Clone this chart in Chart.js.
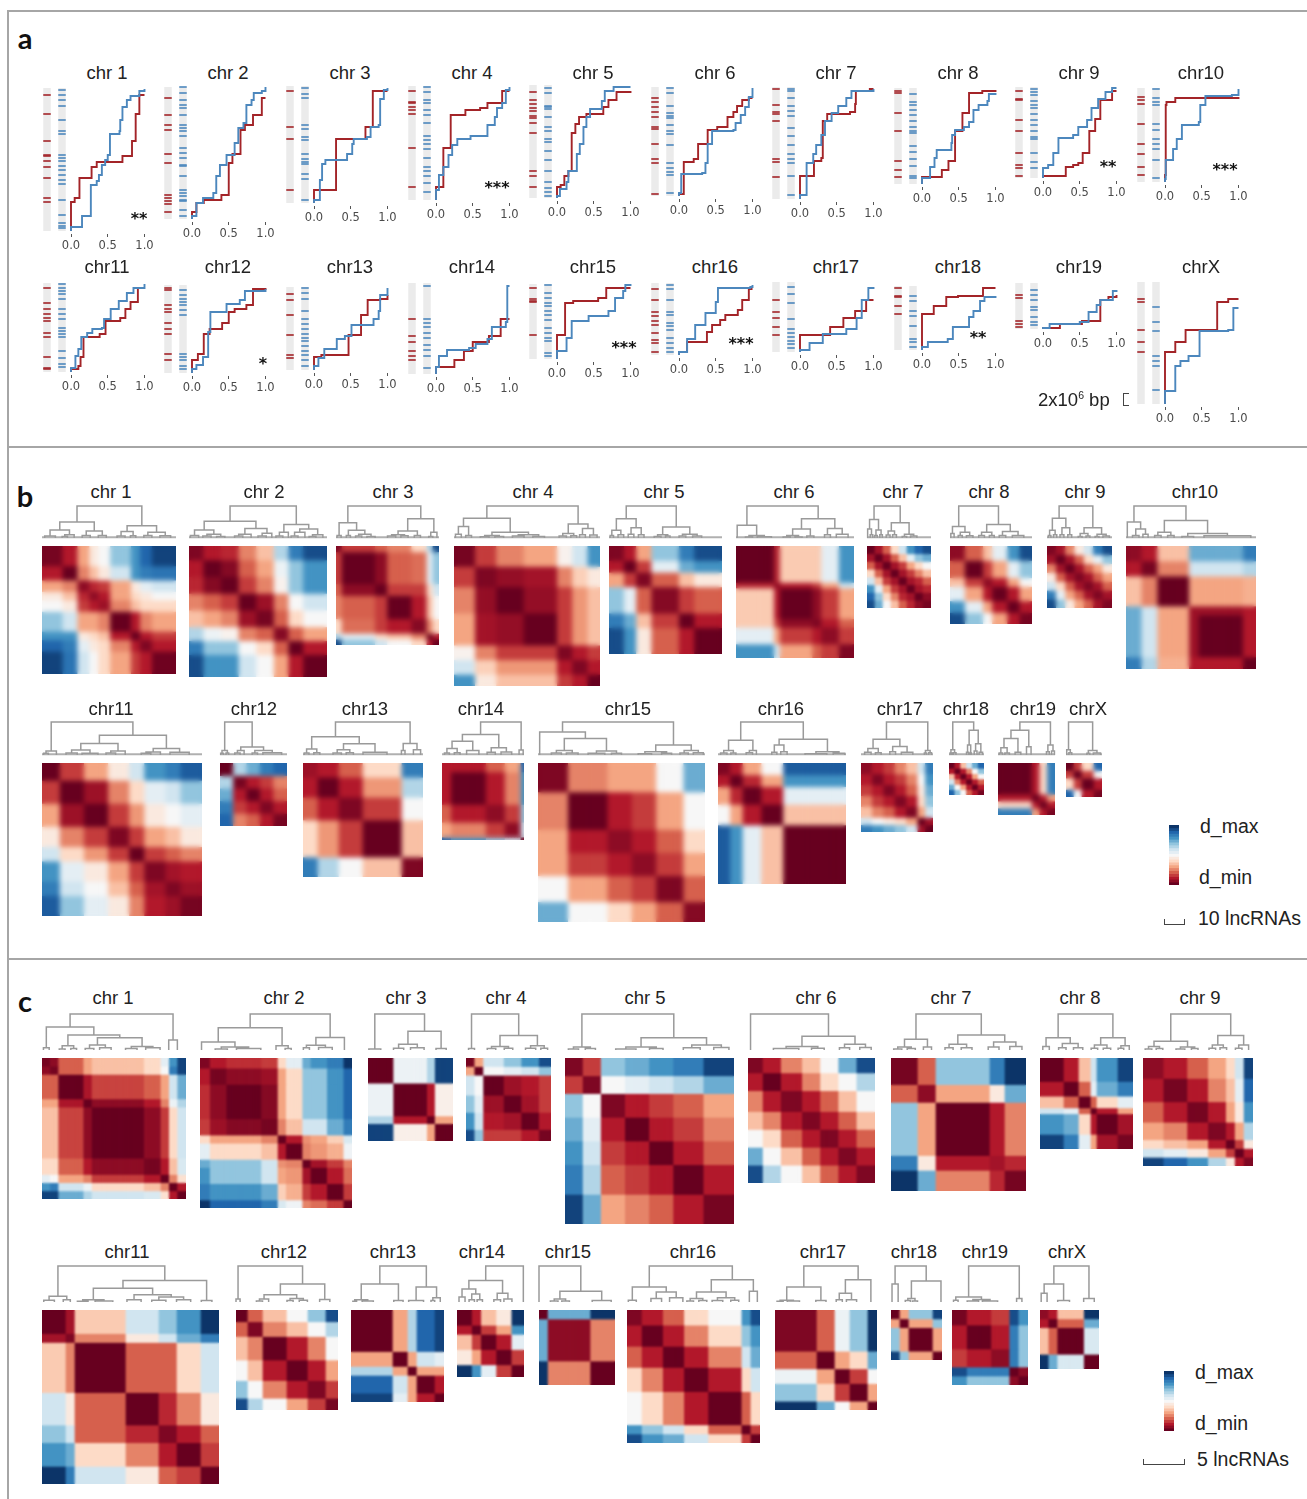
<!DOCTYPE html>
<html>
<head>
<meta charset="utf-8">
<script src="https://cdn.jsdelivr.net/npm/chart.js@4/dist/chart.umd.min.js"></script>
<style>
  html, body { margin: 0; padding: 0; background: #fff; }
  #page { position: relative; width: 1307px; height: 1499px; overflow: hidden; font-family: "Liberation Sans", sans-serif; color: #222; }
  #page canvas { position: absolute; }
  .txt { position: absolute; white-space: nowrap; line-height: 1; }
  .txt sup { font-size: 10.5px; line-height: 0; }
  .rule { position: absolute; background: #a6a6a6; }
  .mark { position: absolute; border: 0 solid #444; box-sizing: border-box; }
  .wrap { position: absolute; overflow: hidden; }
</style>
</head>
<body>
<div id="page"></div>
<script>
// ---------- panel a: chromosome positions of the lncRNA groups ----------
// x = cumulative fraction, y = position from the chromosome start (1 unit = 1/6 Mb)
const aTitles = ['chr 1','chr 2','chr 3','chr 4','chr 5','chr 6','chr 7','chr 8','chr 9','chr10','chr11','chr12','chr13','chr14','chr15','chr16','chr17','chr18','chr19','chrX'];
const aTickValues = [0, 0.5, 1];
const aStars = ['**','','','***','','','','','**','***','','*','','','***','***','','**','',''];
const aLengths = [143,132,117,114,113,109,112,96,91,94,89,88,83,91,75,72,70,64,46,122];

const redX = [
  [0,.05,.115,.28,.35,.7,.83,.88,.93,1],
  [0,.06,.16,.4,.5,.55,.66,.72,.83,.95,1],
  [0,.3,.7,.8,1],
  [0,.1,.2,.4,.6,.7,.9,1],
  [0,.05,.1,.155,.2,.25,.3,.4,.63,.7,.81,1],
  [0,.065,.2,.26,.39,.52,.66,.74,.79,.86,.95,1],
  [0,.19,.29,.31,.37,.68,.75,.76,.95,1],
  [0,.27,.36,.45,.55,.64,.82,1],
  [0,.31,.41,.48,.54,.63,.71,.78,.94,1],
  [0,.01,.01,.01,.01,.01,.02,.14,1],
  [0,.1,.13,.17,.39,.47,.67,.74,.81,.91,1],
  [0,.08,.16,.24,.41,.5,.58,.74,.83,1],
  [0,.1,.47,.64,.73,.9,1],
  [0,.25,.38,.5,.72,.88,1],
  [0,.02,.11,.22,.56,.67,1],
  [0,.11,.38,.45,.56,.63,.8,.86,.95,1],
  [0,.41,.59,.75,.9,1],
  [0,.16,.33,.49,.83,1],
  [0,.23,.53,.78,.89,1],
  [0,.14,.28,.71,.86,1]
];
const redY = [
  [29,33,53,64,69,75,90,117,136,136],
  [7,16,19,24,56,65,89,94,104,121,121],
  [13,64,76,112,112],
  [13,52,85,90,92,97,109,109],
  [11,13,22,27,65,74,81,84,91,98,106,107],
  [2,34,37,52,66,69,79,84,90,96,98,98],
  [23,38,41,78,85,87,95,108,110,110],
  [7,14,23,53,71,91,93,94],
  [2,11,13,15,25,47,59,78,87,87],
  [7,15,29,38,58,77,80,84,85],
  [3,6,15,35,38,51,54,63,70,84,84],
  [13,19,39,44,50,61,64,68,84,85],
  [13,15,35,55,70,71,75],
  [7,14,23,32,38,55,55],
  [24,24,56,58,61,71,71],
  [3,13,23,30,35,40,45,55,66,66],
  [17,25,34,41,52,52],
  [36,44,53,54,62,62],
  [1,5,8,29,32,34],
  [52,62,74,102,105,105]
];
const blueX = [
  [0,.15,.27,.35,.38,.42,.465,.5,.53,.66,.67,.7,.76,.81,.93,1],
  [0,.06,.15,.29,.33,.38,.47,.58,.63,.7,.74,.81,.84,.95,1],
  [0,.08,.11,.155,.31,.45,.52,.54,.72,.77,.88,.9,.95,1],
  [0,.04,.1,.17,.22,.29,.47,.7,.8,.83,.9,.95,1],
  [0,.04,.13,.155,.27,.31,.36,.4,.45,.61,.65,.77,1],
  [0,.03,.315,.36,.39,.45,.74,.77,.84,.9,.95,1],
  [0,.09,.18,.22,.29,.34,.43,.52,.63,.7,1],
  [0,.11,.17,.2,.4,.41,.45,.57,.64,.7,.77,.89,.91,1],
  [0,.07,.14,.21,.41,.48,.6,.66,.75,.85,.94,1],
  [0,.01,.11,.16,.23,.46,.48,.55,.91,1],
  [0,.06,.1,.14,.22,.29,.42,.45,.54,.65,.76,.85,1],
  [0,.06,.15,.22,.25,.47,.65,.72,1],
  [0,.06,.14,.31,.42,.51,.81,.88,.9,1],
  [0,.04,.15,.45,.54,.7,.76,.95,.97,1],
  [0,.13,.2,.43,.7,.79,.9,.93,1],
  [0,.11,.22,.36,.5,.53,.97,1],
  [0,.13,.31,.63,.77,.84,.93,1],
  [0,.08,.35,.42,.64,.7,.79,.85,1],
  [0,.09,.5,.62,.73,.78,.95,1],
  [0,.14,.21,.32,.47,.86,.93,1]
];
const blueY = [
  [4,15,46,50,56,66,71,76,97,100,111,124,131,135,140,142],
  [3,16,21,26,43,54,64,76,91,96,114,119,126,128,132],
  [3,23,39,43,43,49,59,64,66,76,78,104,113,115],
  [10,25,33,45,55,61,64,75,83,92,97,110,113],
  [2,9,16,27,44,54,71,81,89,97,107,111,111],
  [3,22,23,33,52,65,66,73,81,89,99,108],
  [4,36,45,54,64,78,86,93,101,108,110],
  [6,17,26,34,41,49,54,57,62,74,79,83,90,91],
  [10,13,25,40,43,51,58,70,79,86,90,90],
  [3,22,33,43,57,60,77,86,87,93],
  [4,16,23,35,39,43,44,53,63,71,79,84,88],
  [4,8,16,41,61,69,73,82,84],
  [4,12,21,31,34,45,51,59,75,82],
  [7,18,24,26,30,35,47,52,88,88],
  [8,21,38,43,48,61,68,74,75],
  [3,16,30,42,53,67,68,70],
  [2,9,18,23,34,52,64,65],
  [3,8,11,23,33,39,49,53,54],
  [1,5,7,17,24,29,38,39],
  [13,38,43,48,73,74,96,96]
];
// tick marks on the two grey chromosome bars
const redRug = [
  [136,117,90,76,75,70,64,53,33,29],
  [121,104,94,89,65,56,24,21,18,15,7],
  [112,76,64,13],
  [109,98,97,93,90,86,52,13],
  [106,98,94,90,87,82,80,75,65,27,22,11],
  [98,94,89,84,79,69,67,52,37,33,2],
  [110,94,87,85,78,40,37,22],
  [93,91,71,53,23,14,7],
  [87,79,78,58,47,25,13,10,2],
  [85,82,78,58,38,28,15,7],
  [84,69,63,58,54,51,39,35,15,4,3],
  [85,83,68,64,61,50,44,39,19,13],
  [76,70,55,35,15,12],
  [55,38,32,23,18,14],
  [71,60,58,57,24],
  [66,55,43,39,34,30,22,15,12,3],
  [52,40,34,25,17],
  [62,54,53,44,36],
  [34,31,8,5,2],
  [105,102,74,62,52]
];
const blueRug = [
  [141,136,131,125,111,100,97,76,73,70,65,61,56,51,47,31,16,8,5,3],
  [132,126,119,114,111,104,94,91,88,83,71,66,61,54,53,43,29,26,23,19,18,9,3],
  [115,109,105,78,74,66,63,49,44,41,39,29,24,3],
  [113,108,100,97,90,85,77,64,60,56,51,42,33,29,24,17,8],
  [110,105,92,91,89,81,71,67,59,56,47,38,27,16,10,6,2],
  [108,103,90,83,80,78,71,65,62,51,33,28,24,21,3],
  [110,108,101,93,88,83,71,63,54,45,40,36,23,4],
  [90,82,79,74,69,63,57,53,51,38,32,25,18,8,6],
  [89,86,83,77,73,70,64,58,53,47,41,39,25,16,10],
  [93,84,80,77,58,52,43,38,33,22,4],
  [88,84,81,78,73,63,58,53,44,41,38,35,21,14,8,5],
  [83,78,74,71,68,63,58,19,16,13,7,4],
  [82,77,71,59,51,46,41,36,32,29,24,19,15,10,4],
  [88,55,51,47,41,36,29,24,18,6],
  [74,66,61,56,53,48,44,39,31,26,21,18,6,3],
  [70,66,55,43,40,32,29,25,17,12,7,3],
  [65,58,49,33,23,19,15,11,8,4],
  [54,49,39,34,24,11,8,3],
  [39,34,29,22,19,12,7,4],
  [97,82,73,48,43,38,14]
];

// panel a layout
const aX0 = [71,192,314,436,557,679,800,922,1043,1165,71,192,314,436,557,679,800,922,1043,1165];
const aTop = [88,87,86,86,85,87,87,88,87,88,283,285,287,283,284,283,282,286,283,282];
const aStarX = [139,0,0,497,0,0,0,0,1108,1225,0,263,0,0,624,741,0,978,0,0];
const aStarY = [219,0,0,188,0,0,0,0,167,170,0,364,0,0,348,344,0,338,0,0];

// ---------- panel b: distance matrices, 0 = d_min ... 10 = d_max ----------
const bTitles = ['chr 1','chr 2','chr 3','chr 4','chr 5','chr 6','chr 7','chr 8','chr 9','chr10','chr11','chr12','chr13','chr14','chr15','chr16','chr17','chr18','chr19','chrX'];
const bSizes = [
  [7,5,4,3,4,7,3,4,8],[5,6,6,6,6,5,5,8],[2,11,4,8,5,2,2],[7,7,9,11,5,5,4],[5,4,5,9,5,9],
  [13,2,11,3,6,5],[3,3,3,3,3,3,3,3],[5,6,3,5,4,4],[3,3,3,3,3,3,3],[5,5,10,3,14,4],
  [6,8,8,7,5,7,5,7],[3,3,3,3,3],[5,7,8,13,7],[3,11,6,5,1],[10,13,8,8,9,7],
  [4,4,6,7,20],[3,3,3,3,3,2,2],[2,2,2,2,2,2],[9,2,2,2],[2,2,3,2]
];
const bValues = [
  [[.2,1,3,4.5,5,7,8,9,9.7],[0,2.5,3.5,4.5,6,8,8.5,8.7],[.5,1.2,1.5,3,4.5,5.5,6],[.5,1,3,4,4.5,5],[.7,2.5,3.5,4,4],[0,1,2.5,3],[0,1,1.5],[.3,1],[.1]],
  [[.3,1,1.2,2.5,3.5,6.5,8.5,9.5],[0,.4,2,3,5.3,7,8],[0,1.5,2.5,4.8,7,8],[0,.7,2.5,5,6],[.2,2,4,5],[.4,2,3],[0,1],[0]],
  [[.3,1.5,2,2.5,4,6.5,9.5],[0,.5,2,2.2,5.5,7],[0,1.5,1.5,4,6],[0,1,3.5,5],[.4,2.5,4],[0,1],[0]],
  [[.2,1.5,2.5,3,4.8,6,8],[.3,.6,.8,2.5,3.8,4.5],[0,.6,1.5,2.8,3.5],[0,1.5,2.8,3.5],[.3,1,1.5],[.3,1],[0]],
  [[.3,1,3,7,8.5,9.5],[0,1.5,5.5,7.5,8],[.3,2,3.5,4.5],[.4,1.5,2],[0,1],[0]],
  [[0,1.2,3.7,3.7,5.5,8],[.5,1,1.5,3,6],[0,.5,1.5,3],[.3,1,2],[.5,1.5],[.3]],
  [[0,.8,2,4,6,8,9,9.5],[0,.8,2,3.5,5.5,7,7.5],[0,.8,1.5,3,4,5],[0,.8,1.5,2.5,3.5],[0,.8,1.2,2],[0,.8,1.2],[0,.5],[.2]],
  [[.5,2,3.5,5.5,8,9.5],[0,1.5,3,5.5,7],[.5,1,3,5],[0,1,3],[0,1],[.2]],
  [[.3,.8,2.5,4.5,6,8.5,9.5],[0,.8,2,4,5.5,7],[0,.8,2,3,4.5],[.3,.8,2,3],[.3,.8,2],[.3,.8],[.3]],
  [[.5,1,3.5,7.5,7.5,8.5],[.2,2.5,6,6,6.5],[0,3,3,3.2],[.7,.7,1],[0,1],[0]],
  [[0,1.5,3,4.5,6,8,8.5,9.2],[0,.7,2.5,4,5.5,6,7],[0,1.5,2.8,4.5,5,5.5],[.3,1.5,3,3.5,4.5],[0,1.5,2,2.5],[.3,.8,1],[.3,.7],[.2]],
  [[0,6.5,7.5,8.5,9],[.2,1,1.5,2.5],[0,1,2],[.3,1],[.2]],
  [[.7,1,2,4,8.5],[0,1,2.8,6.5],[.3,1.5,5],[0,3.5],[.3]],
  [[1,1,2,3,9],[0,1,2.5,8],[.5,1.5,7],[.5,6],[0]],
  [[.3,2.5,3,3,5,7.5],[0,1,1.5,3,5],[.5,1,2,4],[.5,1.5,3],[.3,2],[.4]],
  [[.3,1,3,5,9.2],[0,1.2,3,8],[0,1,5.5],[0,3.5],[0]],
  [[.5,1,1.5,2.5,3.5,6,8.5],[.3,1,1.5,2.5,5,8],[.3,1,2,4.5,7.5],[.3,1,4,7],[.3,3,6],[0,.8],[0]],
  [[0,1,3.5,6,7.5,9],[0,1,2.5,5,7],[0,1,3,5],[0,1,2],[0,1],[.2]],
  [[0,1,4,8.5],[0,1,3],[0,1],[.2]],
  [[0,1.5,4,9],[0,1.5,5],[0,1],[.2]]
];
// dendrograms: [height, left, right], a bare number is a leaf at that x (% of map width)
const bTrees = [
  [100,[50,[25,[6,2,10],[10,[5,15,19],24]],[22,[8,30,36],[8,42,48]]],[38,[20,[6,56,62],[7,66,70]],[18,[8,76,82],[7,88,96]]]],
  [100,[52,[25,[8,1,7],[12,[6,10,16],[5,20,26]]],[30,[12,[6,33,39],45],[15,[6,50,56],60]]],[42,[18,[6,63,68],72],[28,[18,[6,74,79],84],[10,[5,87,92],97]]]],
  [100,[48,[8,1,5],[24,[8,10,14],[12,[6,19,25],[5,30,38]]]],[60,[22,[10,[6,50,58],[7,63,70]],[8,76,82]],[18,[5,90,94],98]]],
  [100,[62,[36,[12,1,5],[8,8,12]],[18,[8,[4,18,24],[5,28,34]],[10,[6,40,48],[5,54,62]]]],[44,[14,[6,72,77],[7,80,84]],[30,[10,86,90],[9,93,98]]]],
  [100,[60,[24,[8,1,4],[10,8,13]],[32,[12,17,22],[10,26,31]]],[34,[10,[5,40,46],[6,50,54]],[12,[6,62,68],[6,74,82]]]],
  [100,[40,1,[8,[3,8,14],[4,18,30]]],[60,[28,[8,[3,40,46],[3,50,56]],[6,60,66]],[30,[10,75,80],[12,85,95]]]],
  [100,[58,[28,1,[10,5,9]],[25,[8,12,16],[10,20,24]]],[48,[22,[9,30,36],[10,40,46]],[12,[5,55,62],[6,68,78]]]],
  [100,[36,[14,1,5],[18,[8,10,15],[7,20,28]]],[42,[18,[8,35,42],[8,48,54]],[20,[8,60,68],[8,76,90]]]],
  [100,[62,[24,[8,2,6],[10,10,15]],[32,[10,20,26],[10,32,38]]],[32,[14,[5,48,54],[6,60,66]],[12,[5,74,80],[6,86,96]]]],
  [100,[50,1,[28,[8,5,10],[12,13,17]]],[55,[18,[8,22,27],[8,32,37]],[14,[5,43,52],[7,60,96]]]],
  [100,[12,[5,1,4],9],[60,[35,[15,[6,15,22],[5,25,35]],[12,[6,40,46],52]],[20,[9,[5,62,68],74],[8,80,92]]]],
  [100,[14,[5,1,5],[6,9,13]],[24,[14,[6,22,30],36],[14,[6,48,56],[7,64,92]]]],
  [100,[55,[18,[6,1,5],[7,9,14]],[34,[16,[6,25,32],[7,36,42]],[8,50,70]]],[35,[14,82,85],[16,92,98]]],
  [100,[62,[42,[20,[6,3,9],[7,15,22]],[14,30,45]],[22,[8,55,65],[9,72,85]]],[15,94,99]],
  [100,[70,1,[50,[14,[6,8,14],[6,17,24]],[12,[5,30,40],[5,44,50]]]],[30,[10,[4,60,68],[5,74,80]],[14,[6,85,90],[7,93,99]]]],
  [100,[45,[14,[6,2,7],[6,10,14]],[14,[7,22,27],30]],[48,[30,[8,42,46],[10,49,54]],[10,[4,68,85],[5,90,99]]]],
  [100,[48,[20,[8,5,14],[7,20,28]],[26,[10,40,48],[8,56,72]]],[14,[6,88,91],[7,94,98]]],
  [100,[16,[6,3,8],[7,12,20]],[75,[30,[8,50,56],[6,60,64]],[34,[12,72,80],[8,86,96]]]],
  [100,[75,[50,[22,[6,2,8],[6,12,20]],[8,30,40]],[25,50,58]],[30,[10,85,90],[12,94,99]]],
  [100,[16,2,[7,8,16]],[14,[5,58,66],[6,76,96]]]
];
// panel b layout
const bX = [42,189,336,454,609,736,867,950,1047,1126,42,220,303,442,538,718,861,949,998,1066];
const bW = [134,138,103,146,113,118,64,82,65,130,160,67,120,82,167,128,72,35,57,36];
const bH = [128,131,99,140,108,112,62,78,62,123,153,63,114,77,159,121,69,32,52,34];
const bY = [546,546,546,546,546,546,546,546,546,546,763,763,763,763,763,763,763,763,763,763];
const bTitleX = [111,264,393,533,664,794,903,989,1085,1195,111,254,365,481,628,781,900,966,1033,1088];

// ---------- panel c ----------
const cTitles = ['chr 1','chr 2','chr 3','chr 4','chr 5','chr 6','chr 7','chr 8','chr 9','chr11','chr12','chr13','chr14','chr15','chr16','chr17','chr18','chr19','chrX'];
const cSizes = [
  [4,4,12,4,25,8,4,4,4],[5,8,17,8,4,8,4,8,8,4],[13,17,4,9],[3,3,7,6,6,4],[6,6,8,8,8,10,10],
  [5,6,7,6,6,6,6],[9,6,18,5,7],[8,5,4,2,7,5],[7,8,7,6,3,3,3],
  [8,3,17,11,6,8,6],[4,5,8,7,6,4],[14,5,3,6,3],[5,3,5,5,4],[3,14,8],[5,7,7,8,11,3,3],
  [14,6,5,6,3],[3,3,8,3],[5,8,6,3,3],[3,3,9,5]
];
const cValues = [
  [[.2,.5,2,3,3.5,4,5.5,8,9.7],[.2,2,3,3.5,4,5,8.5,9.7],[0,.9,1.6,2,3,6,7.5],[0,.5,1,2.5,5.3,6.5],[0,.5,1.5,4,6],[.2,1,3.5,5.8],[0,2.5,4.2],[0,1],[0]],
  [[.3,1,1.3,1.5,4,5.5,7.5,8,8.5,10],[.2,.5,.7,3,4,7,7,8,9],[0,.4,3,4,7,7,8,9],[.2,2.5,3.5,6,6,7.5,8.5],[0,1,2.7,3,3.8,5.8],[0,2.5,2.8,3.2,5.2],[0,.8,1.5,2.5],[0,1,2.2],[0,1.5],[0]],
  [[0,5.3,6.5,9.7],[0,1,4.7],[0,3],[0]],
  [[.2,3,6,7,8,9.5],[0,5,5.5,6,7],[0,.7,1,1.5],[0,.8,1.5],[0,1],[.2]],
  [[.3,1.5,7,7.5,8,8.5,9.7],[.3,5,5.5,6,6.5,7.5],[.3,1,1.5,2,3],[0,1,1.5,2.5],[0,1,2],[0,1],[.2]],
  [[.3,1,2.5,3.5,5,7.5,9.5],[0,1,2.5,4,5,6.5],[.3,1,2,3.5,5],[.3,1,2,3.5],[.3,1,2],[.3,1],[.3]],
  [[.2,2,7,8.5,10],[.5,3,4.5,7.5],[0,1,2.5],[.8,1.2],[.2]],
  [[0,1,3.5,6,8,9.7],[0,2,5.5,7.5,8.5],[0,2,4,5.5],[0,1,3],[0,.8],[.2]],
  [[.5,1,2,3,4,6,9.7],[.2,1,2.5,3.5,5.5,9],[.2,1,3,4.5,8],[.3,1,3,6.5],[0,1.5,4.5],[0,1],[.3]],
  [[0,.8,3.7,6,7,8,10],[.3,2.5,4.5,6,7.5,8.5],[0,2,2,4,6],[0,1.2,2.5,4.5],[.3,1,2],[0,1.5],[0]],
  [[0,2,3.5,5,7,9.5],[.3,2.5,3.5,5,6.5],[0,1,2.5,5],[0,1,3],[.3,1.5],[.2]],
  [[0,3,6.5,9,9.7],[0,3,6,5.5],[0,3,3],[0,1],[0]],
  [[0,1,3.5,4.5,10],[0,1.5,3,8],[0,1,5.5],[0,1.5],[0]],
  [[0,7.5,10],[.5,2.5],[0]],
  [[.3,1,2,4,5,8,9.5],[0,1,2.5,4,7,8],[0,1,2.5,6,7.5],[0,1,4,6],[0,2,4],[0,1.5],[0]],
  [[.3,2,5.3,7,10],[0,3,4,7.5],[0,1.5,5],[0,3],[0]],
  [[0,3,7,9.7],[0,3,7],[0,3],[0]],
  [[.2,1,1.5,9.5,8],[0,1,8.5,7],[.5,8.5,7],[0,.5],[0]],
  [[.5,1,3.5,10],[0,2,7.5],[0,5.8],[0]]
];
const cTrees = [
  [100,[64,[6,1,5],[42,[12,[3,12,16],[4,20,24]],[34,[14,[4,30,36],[6,40,48]],[10,[4,58,66],[6,72,82]]]]],[28,88,94]],
  [100,[62,[22,1,[8,[3,10,18],[4,24,40]]],[12,50,[4,56,60]]],[35,[13,[6,68,72],[7,78,87]],95]],
  [100,[3,1,15],[52,[16,[5,30,42],[6,50,66]],[4,80,92]]],
  [100,[4,3,10],[40,[10,[4,25,35],[5,45,55]],[12,[5,70,82],[5,88,96]]]],
  [100,[8,[3,2,8],[4,12,18]],[34,[8,[3,30,42],[4,50,58]],[14,[6,70,80],[7,88,97]]]],
  [100,2,[38,[10,[4,20,40],[5,50,60]],[16,[6,72,80],[7,88,97]]]],
  [100,[30,[8,[3,2,8],[4,12,18]],[8,24,30]],[42,[16,[6,40,46],[6,52,60]],[22,[8,72,80],[10,88,97]]]],
  [100,[34,[10,3,10],[18,[6,20,28],[6,36,46]]],[34,[14,[5,55,62],[5,68,76]],[12,[5,84,90],96]]],
  [100,[24,[10,[3,2,8],[4,12,18]],[8,[3,30,38],[4,44,50]]],[40,[14,[5,60,66],[6,70,76]],[14,[5,84,90],96]]],
  [100,[16,[5,1,7],[6,12,16]],[60,[38,[6,[2,20,26],[3,30,40]],[20,[6,48,56],[14,[5,62,70],[6,76,84]]]],[4,90,96]]],
  [100,[8,0,4],[50,[20,[8,[3,20,26],32],[10,[4,50,56],[5,62,70]]],[7,82,92]]],
  [100,[50,[6,[2,2,6],[3,12,24]],[4,46,56]],[42,[4,62,78],[12,[4,86,90],96]]],
  [100,[60,[36,[14,3,12],[22,[6,18,26],[6,30,38]]],[24,[6,55,65],[8,70,82]]],99],
  [100,0,[30,[8,[3,15,25],[3,30,40]],[4,70,95]]],
  [100,[42,[5,1,7],[28,[10,18,26],[12,32,42]]],[62,[28,[10,[3,45,50],[4,54,60]],[12,[4,64,72],[5,78,84]]],[30,92,98]]],
  [100,[42,[5,[2,2,8],[3,12,24]],[4,40,50]],[62,[24,[6,60,66],[6,70,80]],94]],
  [100,[50,2,14],[58,[10,[4,28,38],[3,42,52]],98]],
  [100,[14,[5,2,8],[7,[3,20,35],[3,40,60]]],[10,85,92]],
  [100,[50,[24,2,12],[4,30,50]],[10,74,92]]
];
// panel c layout
const cX = [42,200,368,466,565,748,891,1040,1143,42,236,351,457,539,627,775,891,952,1040];
const cW = [144,152,85,85,169,127,135,93,110,177,102,93,67,76,133,102,51,76,59];
const cH = [141,150,83,83,166,125,133,91,108,174,100,92,67,75,133,100,50,75,59];
const cY = [1058,1058,1058,1058,1058,1058,1058,1058,1058,1310,1310,1310,1310,1310,1310,1310,1310,1310,1310];
const cTitleX = [113,284,406,506,645,816,951,1080,1200,127,284,393,482,568,693,823,914,985,1067];

// colour bar steps, d_max at the top
const legendSteps = [10,9.5,9,8.5,8,7.5,7,6.5,6,5.5,5,4.5,4,3.5,3,2.5,2,1.5,1,.5,0];

const red = '#a32428', blue = '#4c87bd', bandGray = '#ebebeb', treeGray = '#9a9a9a';
const colorStops = ['#67001f','#b2182b','#d6604d','#f4a582','#fddbc7','#f7f7f7','#d1e5f0','#92c5de','#4393c3','#2166ac','#0c3468'];

const page = document.getElementById('page');

// ---------- helpers ----------
function heatColor(v) {
  const i = Math.min(9, Math.floor(v)), t = v - i;
  const hex = (s, k) => parseInt(s.substr(1 + 2 * k, 2), 16);
  const c = [0, 1, 2].map(k => Math.round(hex(colorStops[i], k) * (1 - t) + hex(colorStops[i + 1], k) * t));
  return `rgb(${c[0]},${c[1]},${c[2]})`;
}

function addCanvas(x, y, w, h, blur, parent) {
  const c = document.createElement('canvas');
  c.width = w; c.height = h;
  c.style.left = x + 'px'; c.style.top = y + 'px';
  c.style.width = w + 'px'; c.style.height = h + 'px';
  if (blur) c.style.filter = `blur(${blur}px)`;
  (parent || page).appendChild(c);
  return c;
}

function addText(x, y, html, size, opts = {}) {
  const d = document.createElement('div');
  d.className = 'txt';
  d.innerHTML = html;
  d.style.left = x + 'px'; d.style.top = y + 'px';
  d.style.fontSize = size + 'px';
  d.style.transform = opts.left ? 'translateY(-50%)' : 'translate(-50%,-50%)';
  if (opts.font) d.style.fontFamily = opts.font;
  if (opts.bold) d.style.fontWeight = 'bold';
  if (opts.color) d.style.color = opts.color;
  page.appendChild(d);
}

function addBox(cls, x, y, w, h, css = {}) {
  const d = document.createElement('div');
  d.className = cls;
  d.style.left = x + 'px'; d.style.top = y + 'px';
  d.style.width = w + 'px'; d.style.height = h + 'px';
  Object.assign(d.style, css);
  page.appendChild(d);
  return d;
}

// autoPadding off: thick lines must not shrink the plot area
const baseOptions = {
  responsive: false,
  animation: false,
  events: [],
  devicePixelRatio: 1,
  layout: { padding: 0, autoPadding: false },
  plugins: { legend: { display: false }, title: { display: false }, tooltip: { enabled: false } }
};

// ---------- panel a ----------
const pxPerUnit = 73.5, leftPx = 33, rightPx = 83;
const bandRed = -24 / pxPerUnit, bandBlue = -9 / pxPerUnit;

function bandSet(x, len) {
  return { data: [{ x, y: 0 }, { x, y: len }], showLine: true, borderColor: bandGray, borderWidth: 7.5, borderCapStyle: 'butt', pointRadius: 0, order: 9 };
}
function rugSet(x, ys, color) {
  return { data: ys.map(y => ({ x, y })), showLine: false, pointStyle: 'line', pointRadius: 3.75, pointBorderColor: color, pointBorderWidth: 1.6, order: 5 };
}
function curveSet(xs, ys, color, order) {
  const pts = [{ x: 0, y: 0 }].concat(xs.map((x, i) => ({ x, y: ys[i] })));
  return { data: pts, showLine: true, stepped: true, borderColor: color, borderWidth: 1.9, pointRadius: 0, clip: false, order };
}

function initCurvePanel(i) {
  const len = aLengths[i];
  const w = leftPx + rightPx, h = len + 4 + 22;
  const ctx = addCanvas(aX0[i] - leftPx, aTop[i] - 1, w, h, 0.35);
  new Chart(ctx, {
    type: 'scatter',
    data: {
      datasets: [
        bandSet(bandRed, len), bandSet(bandBlue, len),
        rugSet(bandRed, redRug[i], red), rugSet(bandBlue, blueRug[i], blue),
        curveSet(blueX[i], blueY[i], blue, 2),
        curveSet(redX[i], redY[i], red, 3)
      ]
    },
    options: Object.assign({}, baseOptions, {
      scales: {
        x: {
          type: 'linear', bounds: 'data', min: -leftPx / pxPerUnit, max: rightPx / pxPerUnit,
          afterBuildTicks: s => { s.ticks = aTickValues.map(value => ({ value })); },
          afterFit: s => { s.height = 22; s.paddingLeft = 0; s.paddingRight = 0; },
          border: { display: false },
          grid: { drawOnChartArea: false, drawTicks: true, tickLength: 3, tickColor: '#555', lineWidth: 1 },
          ticks: { padding: 2, autoSkip: false, maxRotation: 0, color: '#4a4a4a', font: { family: 'DejaVu Sans', size: 11.5 }, callback: v => v.toFixed(1) }
        },
        y: { type: 'linear', display: false, bounds: 'data', min: -3, max: len + 1 }
      }
    })
  });
  addText(aX0[i] + 36, i < 10 ? 73 : 267, aTitles[i], 18.5);
  if (aStars[i]) addText(aStarX[i], aStarY[i], aStars[i], 16, { font: 'DejaVu Sans', bold: true, color: '#111' });
}

// ---------- heat maps, drawn as stacked bars with one dataset per matrix row ----------
function initHeat(x, y, w, h, sizes, rows, blur) {
  const columns = [];
  sizes.forEach((s, c) => { for (let k = 0; k < s; k++) columns.push(c); });
  const cell = (r, c) => (c >= r ? rows[r][c - r] : rows[c][r - c]);
  const total = sizes.reduce((a, b) => a + b, 0);
  const wrap = addBox('wrap', x, y, w, h);
  const ctx = addCanvas(0, 0, w, h, 0, wrap);
  new Chart(ctx, {
    type: 'bar',
    data: {
      labels: columns.map((c, k) => k),
      datasets: sizes.map((s, r) => ({
        data: columns.map(() => s),
        backgroundColor: columns.map(c => heatColor(cell(r, c))),
        borderWidth: 0, barPercentage: 1, categoryPercentage: 1
      }))
    },
    options: Object.assign({}, baseOptions, {
      scales: {
        x: { display: false, stacked: true },
        y: { display: false, stacked: true, reverse: true, bounds: 'data', min: 0, max: total }
      }
    })
  });
  // soft copy on top, the sharp chart under it keeps the map's edges solid
  const soft = addCanvas(0, 0, w, h, blur, wrap);
  soft.getContext('2d').drawImage(ctx, 0, 0);
}

function initLegend(x, y, w, h) {
  const ctx = addCanvas(x, y, w, h, 0.5);
  new Chart(ctx, {
    type: 'bar',
    data: {
      labels: ['d'],
      datasets: legendSteps.map(v => ({ data: [1], backgroundColor: heatColor(v), borderWidth: 0, barPercentage: 1, categoryPercentage: 1 }))
    },
    options: Object.assign({}, baseOptions, {
      scales: {
        x: { display: false, stacked: true },
        y: { display: false, stacked: true, reverse: true, bounds: 'data', min: 0, max: legendSteps.length }
      }
    })
  });
}

function treeSegments(node, out) {
  if (typeof node === 'number') return { x: node, h: 0 };
  const l = treeSegments(node[1], out), r = treeSegments(node[2], out);
  out.push({ x: l.x, y: l.h }, { x: l.x, y: node[0] }, { x: r.x, y: node[0] }, { x: r.x, y: r.h }, { x: r.x, y: null });
  return { x: (l.x + r.x) / 2, h: node[0] };
}

function initTree(x, y, w, h, tree, leafRow) {
  const pts = [];
  treeSegments(tree, pts);
  const datasets = [{ data: pts, showLine: true, spanGaps: false, borderColor: treeGray, borderWidth: 1.5, pointRadius: 0, clip: false }];
  // the leaves of the big trees merge into one fuzzy row along the base
  if (leafRow) datasets.push({ data: [{ x: 0, y: 2 }, { x: 100, y: 2 }], showLine: true, borderColor: '#b0b0b0', borderWidth: 2, pointRadius: 0, clip: false });
  new Chart(addCanvas(x - 2, y - 2, w + 4, h + 4, 0.35), {
    type: 'scatter',
    data: { datasets },
    options: Object.assign({}, baseOptions, {
      layout: { padding: 2, autoPadding: false },
      scales: {
        x: { type: 'linear', display: false, bounds: 'data', min: 0, max: 100 },
        y: { type: 'linear', display: false, bounds: 'data', min: 0, max: 100 }
      }
    })
  });
}

function initMapPanel(titles, sizes, values, trees, xs, ws, hs, ys, titleX, treeTop, titleY, softness, maxBlur, leafRow) {
  titles.forEach((t, i) => {
    const row = ys[i] === ys[0] ? 0 : 1;
    initTree(xs[i], treeTop[row], ws[i], ys[i] - 8 - treeTop[row], trees[i], leafRow);
    const cellPx = ws[i] / sizes[i].length;
    initHeat(xs[i], ys[i], ws[i], hs[i], sizes[i], values[i], Math.min(maxBlur, cellPx * softness));
    addText(titleX[i], titleY[row], t, 18.5);
  });
}

// ---------- assemble ----------
function initFigure() {
  addBox('rule', 7, 10, 1300, 1.5);
  addBox('rule', 7, 446, 1300, 1.5);
  addBox('rule', 7, 958, 1300, 1.5);
  addBox('rule', 7, 10, 1.5, 1489);

  addText(25, 37, 'a', 29, { font: 'Lato', bold: true, color: '#111' });
  addText(25, 495, 'b', 29, { font: 'Lato', bold: true, color: '#111' });
  addText(25, 1000, 'c', 29, { font: 'Lato', bold: true, color: '#111' });

  aTitles.forEach((t, i) => initCurvePanel(i));
  addText(1038, 400, '2x10<sup>6</sup> bp', 18.5, { left: true });
  addBox('mark', 1123, 393, 6, 13, { borderWidth: '1.5px 0 1.5px 1.5px' });

  initMapPanel(bTitles, bSizes, bValues, bTrees, bX, bW, bH, bY, bTitleX, [506, 722], [492, 709], 0.22, 2.6, true);
  initMapPanel(cTitles, cSizes, cValues, cTrees, cX, cW, cH, cY, cTitleX, [1014, 1266], [998, 1252], 0.08, 1, false);

  // colour legends
  initLegend(1169, 825, 10, 60);
  initLegend(1164, 1371, 10, 60);
  addText(1200, 827, 'd_max', 19.5, { left: true });
  addText(1199, 878, 'd_min', 19.5, { left: true });
  addText(1195, 1373, 'd_max', 19.5, { left: true });
  addText(1195, 1424, 'd_min', 19.5, { left: true });

  addBox('mark', 1164, 919, 21, 6, { borderWidth: '0 1.2px 1.2px 1.2px' });
  addText(1198, 919, '10 lncRNAs', 19.5, { left: true });
  addBox('mark', 1143, 1459, 42, 6, { borderWidth: '0 1.2px 1.2px 1.2px' });
  addText(1197, 1460, '5 lncRNAs', 19.5, { left: true });
}

initFigure();
</script>
</body>
</html>
